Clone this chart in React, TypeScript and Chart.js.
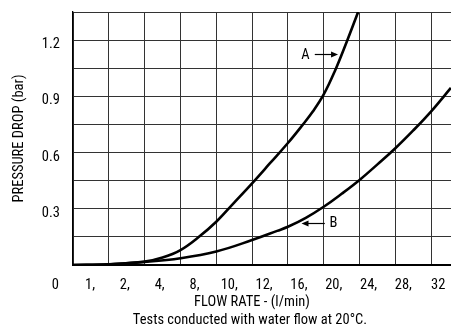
import { useEffect, useRef } from 'react';
import { Chart, registerables } from 'chart.js';

Chart.register(...registerables);

// x positions are expressed in grid units (one unit = one vertical grid division)
const xGrid = [0, 1, 2, 3, 4, 5, 6, 7, 8, 9, 10, 11];
const xTickLabels = ['0', '1,', '2,', '4,', '8,', '10,', '12,', '16,', '20,', '24,', '28,', '32'];
const yTicks = [0, 0.15, 0.3, 0.45, 0.6, 0.75, 0.9, 1.05, 1.2, 1.35];
const yTickLabels = ['', '', '0.3', '', '0.6', '', '0.9', '', '1.2', ''];

const curveAX = [0, 1, 2, 2.5, 3, 3.5, 4, 4.5, 5, 5.5, 6, 6.4, 6.7, 7, 7.3, 7.64, 7.96];
const curveAY = [0, 0.004, 0.018, 0.04, 0.08, 0.148, 0.231, 0.333, 0.436, 0.543, 0.651, 0.745, 0.82, 0.91, 1.03, 1.19, 1.35];

const curveBX = [0, 1, 2, 3, 4, 5, 5.7, 6, 6.5, 7, 7.5, 8, 8.5, 9, 9.5, 10, 10.55];
const curveBY = [0, 0.004, 0.016, 0.036, 0.072, 0.133, 0.182, 0.204, 0.252, 0.311, 0.38, 0.454, 0.537, 0.623, 0.718, 0.82, 0.945];

const annotationLabels = ['A', 'B'];
const annotationTextX = [6.49, 7.27];
const annotationTextY = [1.121, 0.2225];
const arrowStartX = [6.75, 7.03];
const arrowEndX = [7.4, 6.38];
const arrowY = [1.124, 0.2225];

const xAxisTitle = 'FLOW RATE - (l/min)';
const caption = 'Tests conducted with water flow at 20°C.';
const yAxisTitle = 'PRESSURE DROP (bar)';

const FONT = "'Roboto Condensed', 'DejaVu Sans Condensed', sans-serif";
const FONT_SIZE = 14.5;

const annotationPlugin = {
  id: 'curveAnnotations',
  afterDatasetsDraw(chart: any) {
    const { ctx, scales } = chart;
    const x = scales.x;
    const y = scales.y;
    ctx.save();
    ctx.fillStyle = '#000';
    ctx.strokeStyle = '#000';
    ctx.font = `${FONT_SIZE}px ${FONT}`;
    ctx.textAlign = 'center';
    ctx.textBaseline = 'middle';
    annotationLabels.forEach((lab, i) => {
      ctx.fillText(lab, x.getPixelForValue(annotationTextX[i]), y.getPixelForValue(annotationTextY[i]));
      const x0 = x.getPixelForValue(arrowStartX[i]);
      const x1 = x.getPixelForValue(arrowEndX[i]);
      const yy = Math.round(y.getPixelForValue(arrowY[i])) + 0.5;
      const dir = Math.sign(x1 - x0);
      ctx.lineWidth = 1.2;
      ctx.beginPath();
      ctx.moveTo(x0, yy);
      ctx.lineTo(x1 - dir * 5, yy);
      ctx.stroke();
      ctx.beginPath();
      ctx.moveTo(x1, yy);
      ctx.lineTo(x1 - dir * 7, yy - 3);
      ctx.lineTo(x1 - dir * 7, yy + 3);
      ctx.closePath();
      ctx.fill();
    });
    // x axis title and caption
    const area = chart.chartArea;
    ctx.fillText(xAxisTitle, area.left + 179, area.bottom + 37.5);
    ctx.fillText(caption, area.left + 177, area.bottom + 55.5);
    ctx.restore();
  },
};

export default function App() {
  const ref = useRef<HTMLCanvasElement | null>(null);
  useEffect(() => {
    if (!ref.current) return;
    Chart.defaults.font.family = FONT;
    Chart.defaults.font.size = FONT_SIZE;
    Chart.defaults.color = '#000';
    const lineStyle = {
      borderColor: '#000',
      borderWidth: 2.6,
      pointRadius: 0,
      tension: 0.4,
      fill: false,
    };
    const chart = new Chart(ref.current, {
      type: 'line',
      data: {
        datasets: [
          { label: 'A', data: curveAX.map((v, i) => ({ x: v, y: curveAY[i] })), ...lineStyle },
          { label: 'B', data: curveBX.map((v, i) => ({ x: v, y: curveBY[i] })), ...lineStyle },
        ],
      },
      options: {
        animation: false,
        responsive: false,
        maintainAspectRatio: false,
        devicePixelRatio: 1,
        layout: { padding: { left: 0, top: 12, right: 13, bottom: 0 } },
        plugins: { legend: { display: false }, tooltip: { enabled: false } },
        scales: {
          x: {
            type: 'linear',
            position: 'bottom',
            min: xGrid[0],
            max: xGrid[xGrid.length - 1],
            afterBuildTicks: (s: any) => {
              s.ticks = xGrid.map((v) => ({ value: v }));
            },
            ticks: { display: false },
            grid: { color: '#333', lineWidth: 1, drawTicks: false },
            border: { display: true, color: '#000', width: 2 },
            afterFit: (s: any) => {
              s.height = 0;
              s.paddingLeft = 0;
              s.paddingRight = 0;
            },
          },
          xl: {
            type: 'linear',
            position: 'bottom',
            min: 0.511,
            max: 11.827,
            afterBuildTicks: (s: any) => {
              s.ticks = xTickLabels.map((_, i) => ({ value: i }));
            },
            ticks: {
              autoSkip: false,
              maxRotation: 0,
              minRotation: 0,
              padding: 12,
              callback: (_v: any, i: number) => xTickLabels[i],
            },
            grid: { display: false, drawTicks: false },
            border: { display: false },
            afterFit: (s: any) => {
              s.height = 65;
              s.paddingLeft = 0;
              s.paddingRight = 0;
            },
          },
          y: {
            type: 'linear',
            min: yTicks[0],
            max: yTicks[yTicks.length - 1],
            afterBuildTicks: (s: any) => {
              s.ticks = yTicks.map((v) => ({ value: v }));
            },
            ticks: {
              padding: 13,
              labelOffset: 4.5,
              autoSkip: false,
              callback: (_v: any, i: number) => yTickLabels[i],
            },
            grid: { color: '#333', lineWidth: 1, drawTicks: false },
            border: { display: true, color: '#000', width: 1.3 },
            title: {
              display: true,
              text: yAxisTitle,
              font: { size: FONT_SIZE },
              padding: { top: 11, bottom: 0 },
            },
            afterFit: (s: any) => {
              s.width = 73;
              s.paddingTop = 0;
              s.paddingBottom = 0;
            },
          },
        },
      } as any,
      plugins: [annotationPlugin],
    });
    return () => chart.destroy();
  }, []);
  return (
    <div style={{ position: 'fixed', left: 0, top: 0, width: 451, height: 330, overflow: 'hidden', background: '#fff' }}>
      <canvas ref={ref} width={480} height={330} style={{ width: 480, height: 330, display: 'block' }} />
    </div>
  );
}
